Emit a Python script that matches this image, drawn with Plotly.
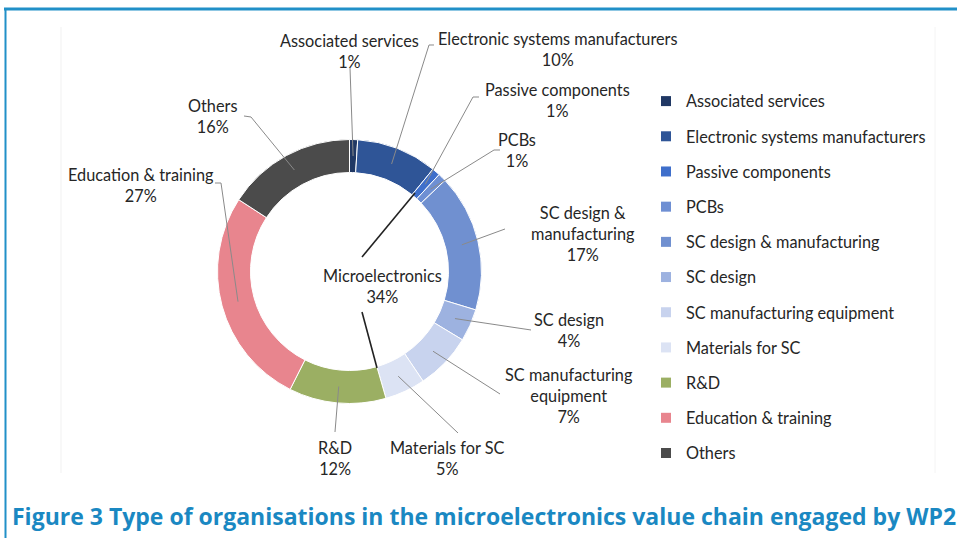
import math
import plotly.graph_objects as go

# ---------------- data ----------------
categories = [
    "Associated services",
    "Electronic systems manufacturers",
    "Passive components",
    "PCBs",
    "SC design & manufacturing",
    "SC design",
    "SC manufacturing equipment",
    "Materials for SC",
    "R&D",
    "Education & training",
    "Others",
]
values = [1, 10, 1, 1, 17, 4, 7, 5, 12, 27, 16]
label_lines = [
    "Associated services",
    "Electronic systems manufacturers",
    "Passive components",
    "PCBs",
    "SC design &<br>manufacturing",
    "SC design",
    "SC manufacturing<br>equipment",
    "Materials for SC",
    "R&D",
    "Education & training",
    "Others",
]
center_label = "Microelectronics"
center_value = 34
title_text = "Figure 3 Type of organisations in the microelectronics value chain engaged by WP2"

# ---------------- styles ----------------
colors = ["#203864", "#2F5597", "#3F6FCB", "#6E8FD3", "#7090D0", "#9DB2E0",
          "#C8D3EE", "#DCE3F4", "#9BAF63", "#E8858E", "#4B4B4B"]
W, H = 957, 538
FONT = "Lato"
FS = 16.3
TXT = "#262626"
CX, CY, R = 349.5, 271.5, 132
HOLE = 0.75


def px(x):
    return x / W


def py(y):
    return 1 - y / H


# label text anchor (center x, top y) and leader start points, in pixels
label_pos = [(349, 29), (558, 27), (557, 78), (517, 128), (583, 201), (569, 308),
             (569, 363), (447, 436), (335, 436), (141, 163), (212, 94)]
leader_start = [
    [(350, 68)],
    [(434, 45), (429, 45)],
    [(479, 97), (473, 97)],
    [(500, 150), (494, 150)],
    [(505, 229)],
    [(531, 330)],
    [(500, 394)],
    [(458, 433)],
    [(335, 432)],
    [(215, 183), (221, 183)],
    [(244, 116), (251, 117)],
]

fig = go.Figure()
fig.add_trace(go.Pie(
    labels=categories, values=values, sort=False, direction="clockwise", rotation=0,
    hole=HOLE, marker=dict(colors=colors, line=dict(color="white", width=1)),
    textinfo="none", showlegend=False,
    domain=dict(x=[px(CX - R), px(CX + R)], y=[py(CY + R), py(CY - R)]),
))

# legend entries (one group each so spacing can be set)
for c, col in zip(categories, colors):
    fig.add_trace(go.Scatter(
        x=[None], y=[None], mode="markers", name=c, legendgroup=c,
        marker=dict(symbol="square", size=10, color=col), showlegend=True,
    ))

total = sum(values)
shapes = []
annotations = []
cum = 0
r_leader = R * (1 + HOLE) / 2
for i, v in enumerate(values):
    mid = (cum + v / 2) / total * 2 * math.pi
    cum += v
    ex = CX + r_leader * math.sin(mid)
    ey = CY - r_leader * math.cos(mid)
    pts = leader_start[i] + [(ex, ey)]
    path = "M " + " L ".join(f"{px(a):.5f},{py(b):.5f}" for a, b in pts)
    shapes.append(dict(type="path", path=path, xref="paper", yref="paper",
                       line=dict(color="#8a8a8a", width=1)))
    lx, ly = label_pos[i]
    annotations.append(dict(
        text=f"{label_lines[i]}<br>{v}%",
        x=px(lx), y=py(ly), xref="paper", yref="paper", xanchor="center", yanchor="top",
        showarrow=False, font=dict(family=FONT, size=FS, color=TXT), align="center"))

# center label
annotations.append(dict(text=f"{center_label}<br>{center_value}%", x=px(382), y=py(264),
                        xref="paper", yref="paper", xanchor="center", yanchor="top",
                        showarrow=False, font=dict(family=FONT, size=FS, color=TXT)))
for a, b in [((362, 257), (415, 193)), ((362, 312), (377, 368))]:
    shapes.append(dict(type="line", xref="paper", yref="paper", x0=px(a[0]), y0=py(a[1]),
                       x1=px(b[0]), y1=py(b[1]), line=dict(color="#222222", width=1.6)))

# figure caption
annotations.append(dict(text=f"<b>{title_text}</b>", x=px(10), y=py(516), xref="paper", yref="paper",
                        xanchor="left", yanchor="middle", showarrow=False,
                        font=dict(family="Open Sans", size=23, color="#1A88C2")))

# frame
shapes += [
    dict(type="line", xref="paper", yref="paper", x0=px(4), x1=1, y0=py(9), y1=py(9),
         line=dict(color="#2190C8", width=3)),
    dict(type="line", xref="paper", yref="paper", x0=px(5.5), x1=px(5.5), y0=py(8), y1=0,
         line=dict(color="#2190C8", width=2)),
    dict(type="line", xref="paper", yref="paper", x0=px(61), x1=px(61), y0=py(27), y1=py(473),
         line=dict(color="#f1f1f1", width=1)),
    dict(type="line", xref="paper", yref="paper", x0=px(935), x1=px(935), y0=py(27), y1=py(473),
         line=dict(color="#f4f4f4", width=1)),
]

fig.update_layout(
    width=W, height=H, margin=dict(l=0, r=0, t=0, b=0),
    paper_bgcolor="white", plot_bgcolor="white",
    xaxis=dict(visible=False), yaxis=dict(visible=False),
    shapes=shapes, annotations=annotations,
    legend=dict(x=px(646), y=py(84), xanchor="left", yanchor="top",
                font=dict(family=FONT, size=FS, color=TXT),
                tracegroupgap=11, bgcolor="rgba(0,0,0,0)", itemclick=False),
    showlegend=True,
)

fig.write_html("out.html", config={"displayModeBar": False},
               post_script="document.body.style.margin='0';document.body.style.overflow='hidden';")
